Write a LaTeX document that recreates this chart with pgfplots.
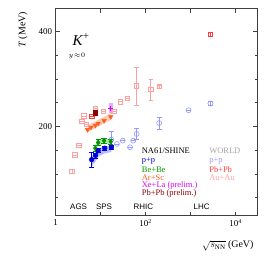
\documentclass[border=0pt]{standalone}
\usepackage{pgfplots}
\pgfplotsset{compat=1.18}
\usepackage{fontspec}
\setmainfont{Liberation Serif}
\newfontfamily\sansf{Liberation Sans}
\definecolor{na61blue}{RGB}{0,0,215}
\definecolor{bandblue}{RGB}{150,160,255}
\definecolor{na61green}{RGB}{0,150,0}
\definecolor{bandgreen}{RGB}{150,220,150}
\definecolor{arsc}{RGB}{255,95,30}
\definecolor{bandorange}{RGB}{255,190,160}
\definecolor{xela}{RGB}{215,0,255}
\definecolor{bandmag}{RGB}{230,170,255}
\definecolor{pbpre}{RGB}{140,0,0}
\definecolor{worldpp}{RGB}{150,150,255}
\definecolor{worldpb}{RGB}{255,60,60}
\definecolor{worldau}{RGB}{255,160,160}
\definecolor{worldgray}{RGB}{165,165,165}
\begin{document}
\begin{tikzpicture}
\useasboundingbox (-55.7bp,-54.3bp) rectangle (222.3bp,215.7bp);
\begin{axis}[
  xmode=log, log basis x=10,
  scale only axis, width=201.3bp, height=207.2bp,
  xmin=1, xmax=30000, ymin=12, ymax=448,
  xtick={1,10,100,1000,10000},
  xticklabels={1,,10\textsuperscript{2},,10\textsuperscript{4}},
  ytick={0,200,400}, minor y tick num=3,
  tick align=inside,
  major tick length=4bp, minor tick length=2bp,
  axis line style={black!75, line width=0.6pt},
  tick style={black!75, line width=0.5pt},
  /pgf/number format/assume math mode=true,
  ticklabel style={font=\fontsize{9}{10}\selectfont},
  label style={font=\fontsize{10}{12}\selectfont},
  ylabel={\textit{T} (MeV)},
  ylabel style={at={(rel axis cs:-0.162,1.0)}, anchor=east},
  xlabel={$\sqrt{s_{\mathrm{NN}}}$ (GeV)},
  xlabel style={at={(rel axis cs:1.0,-0.146)}, anchor=east},
  clip=false,
]
% bands
\addplot[fill=bandblue, draw=none, fill opacity=0.7] coordinates {(6.3,116)(7.7,126)(8.8,136)(12.3,143)(17.3,146)(17.3,160)(12.3,158)(8.8,153)(7.7,145)(6.3,138)} -- cycle;
\addplot[fill=bandgreen, draw=none, fill opacity=0.7] coordinates {(7.6,147)(8.8,159)(11.9,164)(16.8,162)(16.8,173)(11.9,175)(8.8,171)(7.6,160)} -- cycle;
\addplot[fill=bandorange, draw=none, fill opacity=0.8] coordinates {(5.1,187)(6.1,192)(7.6,196)(8.8,200)(11.9,206)(16.8,214)(16.8,228)(11.9,220)(8.8,214)(7.6,210)(6.1,206)(5.1,201)} -- cycle;
\addplot[fill=bandmag, draw=none] coordinates {(15,229)(19,229)(19,249)(15,249)} -- cycle;
% WORLD Au+Au
\addplot[only marks, mark=square, mark size=2.2pt, color=worldau, line width=0.6pt,
  error bars/.cd, y dir=both, y explicit, error bar style={line width=0.5pt}] coordinates {
  (2.3,106) +- (0,4) (2.64,140) +- (0,0) (3.24,160) +- (0,0)
  (3.8,210) +- (0,0) (4.2,222) +- (0,0) (4.8,204) +- (0,0)
  (7.7,238) +- (0,0) (11.5,232) +- (0,0) (19.6,232) +- (0,0)
  (27,252) +- (0,0) (39,259) +- (0,0)
  (62.4,285) +- (0,40) (130,278) +- (0,22) (200,284) +- (0,3)};
% WORLD Pb+Pb
\addplot[only marks, mark=square, mark size=2.2pt, color=worldpb, line width=0.6pt,
  error bars/.cd, y dir=both, y explicit, error bar style={line width=0.5pt}] coordinates {
  (6.3,221) +- (0,0) (2760,394) +- (0,4)};
% WORLD p+p
\addplot[only marks, mark=o, mark size=2.5pt, color=worldpp, line width=0.6pt,
  error bars/.cd, y dir=both, y explicit, error bar style={line width=0.5pt}] coordinates {
  (17.3,172) +- (0,17) (23,163) +- (0,0) (31,170) +- (0,0) (45,156) +- (0,0)
  (53,170) +- (0,0) (63,184) +- (0,12) (200,207) +- (0,12) (900,234) +- (0,0) (2760,248) +- (0,4)};
% NA61 Pb+Pb prelim
\addplot[only marks, mark=square*, mark size=2.2pt, color=pbpre] coordinates {(7.6,229)};
% NA61 Ar+Sc
\addplot[only marks, mark=triangle*, mark options={rotate=180}, mark size=2.6pt, color=arsc] coordinates {
  (5.1,193)(6.1,198)(7.6,202)(8.8,206)(11.9,212)(16.8,220)};
% NA61 Be+Be
\addplot[only marks, mark=diamond*, mark size=2.6pt, color=na61green,
  error bars/.cd, y dir=both, y explicit] coordinates {
  (7.6,154) +- (0,6) (8.8,166) +- (0,6) (11.9,170) +- (0,6) (16.8,168) +- (0,6)};
% NA61 p+p
\addplot[only marks, mark=*, mark size=2.4pt, color=na61blue,
  error bars/.cd, y dir=both, y explicit] coordinates {
  (6.3,130) +- (0,15) (7.7,139) +- (0,5) (8.8,149) +- (0,4) (12.3,154) +- (0,4) (17.3,156) +- (0,4)};
% NA61 Xe+La prelim
\addplot[only marks, mark=+, mark size=2.6pt, line width=1.2pt, color=xela] coordinates {(16.8,238)};
% texts
\node[inner sep=0pt, font=\fontsize{15}{16}\selectfont] at (rel axis cs:0.126,0.85) {\textit{K}\textsuperscript{+}};
\node[inner sep=0pt, font=\fontsize{7}{8}\selectfont] at (rel axis cs:0.106,0.772) {$y\!\approx\!0$};
\begin{scope}[every node/.style={anchor=west, inner sep=0pt, font=\fontsize{8.5}{9}\selectfont}]
\node at (rel axis cs:0.427,0.312) {NA61/SHINE};
\node[text=na61blue] at (rel axis cs:0.427,0.262) {p+p};
\node[text=na61green] at (rel axis cs:0.427,0.222) {Be+Be};
\node[text=arsc] at (rel axis cs:0.427,0.184) {Ar+Sc};
\node[text=xela] at (rel axis cs:0.427,0.146) {Xe+La (prelim.)};
\node[text=pbpre] at (rel axis cs:0.427,0.108) {Pb+Pb (prelim.)};
\node[text=worldgray] at (rel axis cs:0.762,0.312) {WORLD};
\node[text=worldpp] at (rel axis cs:0.762,0.262) {p+p};
\node[text=worldpb] at (rel axis cs:0.762,0.222) {Pb+Pb};
\node[text=worldau] at (rel axis cs:0.762,0.184) {Au+Au};
\end{scope}
\begin{scope}[every node/.style={inner sep=0pt, font=\sansf\fontsize{8}{9}\selectfont}]
\node at (rel axis cs:0.114,0.045) {AGS};
\node at (rel axis cs:0.24,0.045) {SPS};
\node at (rel axis cs:0.435,0.045) {RHIC};
\node at (rel axis cs:0.725,0.045) {LHC};
\end{scope}
\end{axis}
\end{tikzpicture}
\end{document}
